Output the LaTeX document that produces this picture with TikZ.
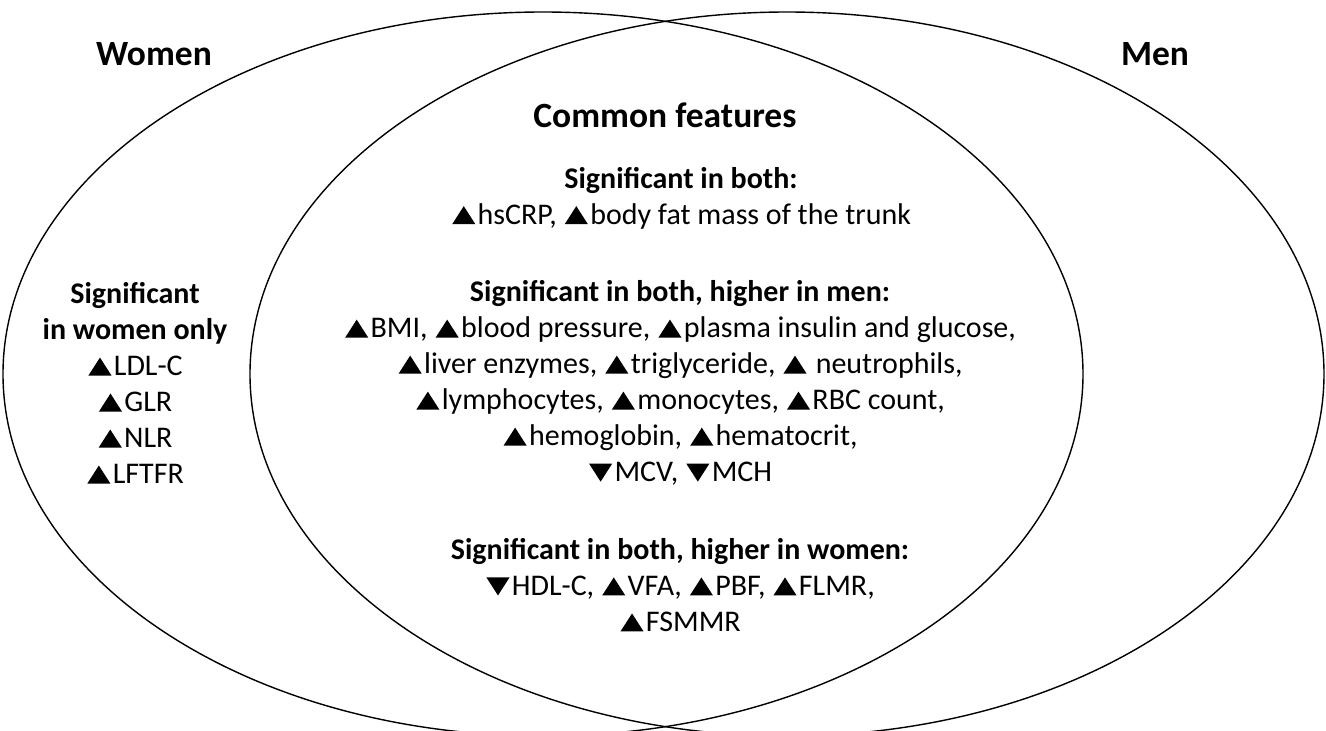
\documentclass[tikz,border=0pt]{standalone}
\usepackage{fontspec}
\setmainfont{Carlito}
\usepackage{tikz}
\usetikzlibrary{positioning}

% filled triangles, up and down
\newcommand{\up}{\hspace{0.04em}\tikz[baseline=0pt]\fill (0,0) -- (0.77em,0) -- (0.385em,0.6em) -- cycle;\hspace{0.08em}}
\newcommand{\dn}{\hspace{0.04em}\tikz[baseline=0pt]\fill (0,0.6em) -- (0.77em,0.6em) -- (0.385em,0) -- cycle;\hspace{0.08em}}

\begin{document}
\begin{tikzpicture}[x=1pt, y=-1pt, line width=1.4pt,
    title/.style={font=\fontsize{35.5}{40}\selectfont\bfseries},
    txt/.style={align=center, font=\fontsize{30}{36}\selectfont}]
    \useasboundingbox (0,0) rectangle (1326,731);
    \clip (0,0) rectangle (1326,731);

    \draw (543,374) ellipse [x radius=540pt, y radius=362pt];
    \draw (787,374) ellipse [x radius=537pt, y radius=362pt];

    \node[title] (women) at (154,54) {Women};
    \node[title] (men) at (1155,54) {Men};
    \node[title] (common) at (665,115) {Common features};

    \node[txt] (both) at (681,198) {\textbf{Significant in both:}\\
        \up hsCRP, \up body fat mass of the trunk};
    \node[txt] (bothmen) at (680,383) {\textbf{Significant in both, higher in men:}\\
        \up BMI, \up blood pressure, \up plasma insulin and glucose,\\
        \up liver enzymes, \up triglyceride, \up\ neutrophils,\\
        \up lymphocytes, \up monocytes, \up RBC count,\\
        \up hemoglobin, \up hematocrit,\\
        \dn MCV, \dn MCH};
    \node[txt] (bothwomen) at (680,585) {\textbf{Significant in both, higher in women:}\\
        \dn HDL-C, \up VFA, \up PBF, \up FLMR,\\
        \up FSMMR};

    \node[txt] (womenonly) at (135,383) {\textbf{Significant}\\
        \textbf{in women only}\\
        \up LDL-C\\
        \up GLR\\
        \up NLR\\
        \up LFTFR};
\end{tikzpicture}
\end{document}
